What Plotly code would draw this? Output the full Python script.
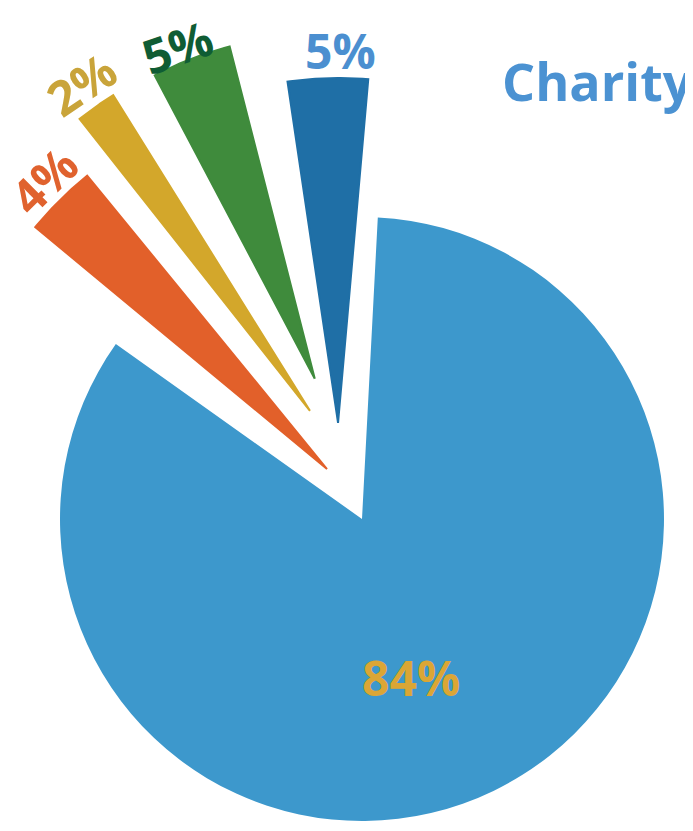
import numpy as np
import plotly.graph_objects as go

# ---------------- data ----------------
categories = ["Main share", "Orange share", "Gold share", "Green share", "Dark blue share"]
values = [84, 4, 2, 5, 5]
pct_labels = ["84%", "4%", "2%", "5%", "5%"]
title_text = "Charity"

# ---------------- styles ----------------
slice_colors = ["#3d98cc", "#e2602a", "#d3a72b", "#3f8b3c", "#1f6fa6"]
label_colors = ["#dba635", "#e0622e", "#c9a43a", "#0f5c34", "#4b8fd0"]
title_color = "#4b92d2"
FONT = "Open Sans"

W, H = 693, 831
PAGE_OFFSET = 8               # browser body margin
CX = 362 - PAGE_OFFSET        # pie centre, px from figure left
CY = H - (519 - PAGE_OFFSET)  # pie centre, px from figure bottom
R_MAIN = 302                  # main slice radius (px)
ROTATION = 3                  # main slice start angle, clockwise from 12 o'clock

# exploded wedges (indices 1..4): geometry in px and degrees clockwise from 12 o'clock
tip_dist = [None, 61, 120, 148, 99]
tip_ang = [None, -35.0, -25.7, -18.6, -14.0]
axis_ang = [None, -44.8, -35.1, -21.1, -1.7]
wedge_len = [None, 379, 372, 343, 345]
label_dist = [None, 405, 399, 359, 372]      # label centre, measured from wedge tip
label_dir = [None, -44.5, -34.9, -22.4, 0.3]
label_rot = [None, -44.8, -34.0, -19.0, 0.0]
DEG_PER_PCT, DEG_PAD = 2.37, 1.6
MAIN_LABEL_R, MAIN_LABEL_ANG = 166, 163

fig = go.Figure()

annotations = []
for i in range(1, len(values)):
    tx = tip_dist[i] * np.sin(np.radians(tip_ang[i]))
    ty = tip_dist[i] * np.cos(np.radians(tip_ang[i]))
    width = DEG_PER_PCT * values[i] + DEG_PAD
    th = np.radians(np.linspace(axis_ang[i] - width / 2, axis_ang[i] + width / 2, 30))
    xs = np.concatenate([[tx], tx + wedge_len[i] * np.sin(th), [tx]])
    ys = np.concatenate([[ty], ty + wedge_len[i] * np.cos(th), [ty]])
    fig.add_trace(go.Scatter(
        x=xs, y=ys, mode="lines", fill="toself",
        fillcolor=slice_colors[i], line=dict(color=slice_colors[i], width=2),
        name=categories[i], hoverinfo="name", showlegend=False,
    ))
    a = np.radians(label_dir[i])
    annotations.append(dict(
        x=tx + label_dist[i] * np.sin(a), y=ty + label_dist[i] * np.cos(a),
        xref="x", yref="y",
        text=f"<b>{pct_labels[i]}</b>", showarrow=False, textangle=label_rot[i],
        xanchor="center", yanchor="middle",
        font=dict(family=FONT, size=48, color=label_colors[i]),
    ))

fig.add_trace(go.Pie(
    labels=categories, values=values, sort=False, direction="clockwise",
    rotation=ROTATION, textinfo="none", hoverinfo="label+percent",
    marker=dict(colors=[slice_colors[0]] + ["rgba(0,0,0,0)"] * 4, line=dict(width=0)),
    domain=dict(x=[(CX - R_MAIN) / W, (CX + R_MAIN) / W],
                y=[(CY - R_MAIN) / H, (CY + R_MAIN) / H]),
    showlegend=False,
))

a = np.radians(MAIN_LABEL_ANG)
annotations.append(dict(
    x=MAIN_LABEL_R * np.sin(a), y=MAIN_LABEL_R * np.cos(a), xref="x", yref="y",
    text=f"<b>{pct_labels[0]}</b>", showarrow=False,
    font=dict(family=FONT, size=48, color=label_colors[0]),
))

annotations.append(dict(
    x=(500 - PAGE_OFFSET) - CX, y=(H - (80 - PAGE_OFFSET)) - CY, xref="x", yref="y",
    xanchor="left", yanchor="middle",
    text=f"<b>{title_text}</b>", showarrow=False,
    font=dict(family=FONT, size=52, color=title_color),
))

fig.update_layout(
    width=W, height=H, margin=dict(l=0, r=0, t=0, b=0),
    paper_bgcolor="white", plot_bgcolor="white",
    xaxis=dict(range=[-CX, W - CX], visible=False, fixedrange=True),
    yaxis=dict(range=[-CY, H - CY], visible=False, fixedrange=True),
    annotations=annotations, showlegend=False,
)

fig.write_html("out.html")
